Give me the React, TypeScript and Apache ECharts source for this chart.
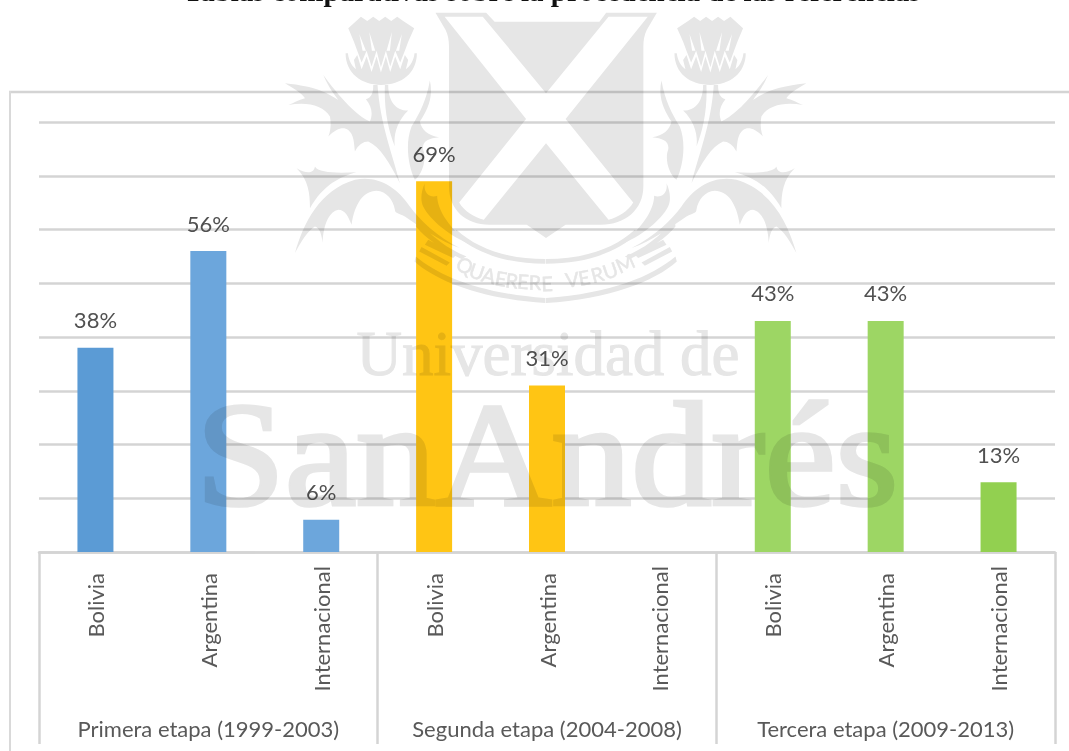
import React, { useEffect, useRef } from "react";
import * as echarts from "echarts";

const categories = ["Bolivia", "Argentina", "Internacional", "Bolivia", "Argentina", "Internacional", "Bolivia", "Argentina", "Internacional"];
const stages = ["Primera etapa (1999-2003)", "Segunda etapa (2004-2008)", "Tercera etapa (2009-2013)"];
const values: (number | null)[] = [38, 56, 6, 69, 31, null, 43, 43, 13];
const barColors = ["#5B9BD5", "#6CA6DC", "#6CA6DC", "#FFC514", "#FFC514", "#FFC514", "#9DD664", "#9DD664", "#92D050"];
const titleText = "Tablas comparativas sobre la procedencia de las referencias";
const motto = "QUAERERE VERUM";

const SHIELD =
  "M460,8 L610,8 L635,35 L945,35 L965,8 L1115,8 L1085,60 C1078,75 1075,90 1075,110 L1075,530 C1075,600 1020,645 950,645 L845,645 L787,685 L730,645 L620,645 C550,645 500,600 500,530 L500,110 C500,90 497,75 490,60 Z " +
  "M487,20 L728,327 L530,578 C545,605 575,622 603,630 L787,400 L972,630 C1000,622 1030,605 1045,578 L845,327 L1088,20 L972,20 L787,250 L600,20 Z";
const THISTLE =
  "M205,55 L243,20 L262,33 L280,20 L298,33 L316,20 L334,33 L352,20 L370,33 L403,55 L385,95 L375,122 L361,158 L346,122 L331,170 L318,122 L303,172 L290,122 L275,170 L260,122 L245,158 L232,122 L222,95 Z " +
  "M238,72 L248,122 L258,122 Z M268,66 L276,122 L286,122 Z M336,66 L320,122 L330,122 Z M366,72 L348,122 L358,122 Z " +
  "M197,130 L204,130 C206,150 215,168 228,178 L222,150 L232,135 L245,178 L260,140 L275,186 L290,140 L303,188 L318,140 L331,186 L346,140 L361,178 L375,135 L385,150 L378,178 C392,168 402,150 404,130 L411,130 C411,190 365,225 303,225 C245,225 197,190 197,130 Z";
const LEAVES =
  "M293,225 L280,225 C280,250 275,262 258,268 C275,290 280,310 270,335 C240,320 200,290 130,195 C150,240 165,255 175,270 C140,248 110,230 15,220 C50,240 70,255 75,265 C55,270 40,280 25,285 C80,275 130,285 150,320 C155,345 150,370 145,380 C170,355 190,350 205,360 C222,375 222,395 225,425 C235,405 250,395 265,395 C300,410 330,460 360,520 C340,440 300,340 293,225 Z " +
  "M50,475 C75,490 100,495 105,470 C115,490 175,490 230,487 C180,500 130,525 90,595 C90,550 85,510 50,475 Z " +
  "M45,730 C70,640 120,540 225,510 C290,495 350,530 390,590 C420,630 470,680 540,715 C480,695 420,650 375,620 C355,610 345,610 345,600 C340,570 320,545 290,543 C250,545 225,580 215,645 C205,620 195,600 175,600 C150,605 130,640 128,700 C125,675 120,655 105,650 C85,660 60,700 45,730 Z " +
  "M315,225 L325,225 C325,270 345,302 385,302 C350,335 340,380 345,410 C325,360 312,300 315,225 Z " +
  "M450,212 C462,265 440,305 420,335 C425,360 445,378 478,382 C445,385 425,395 430,420 C440,445 430,490 405,510 C385,470 375,400 395,350 C420,310 440,270 450,212 Z " +
  "M435,520 C430,550 450,565 472,558 C472,600 510,660 575,705 C510,680 450,630 430,590 C420,570 425,540 435,520 Z " +
  "M410,625 C450,680 510,720 560,740 L545,748 C500,725 440,690 408,650 Z " +
  "M445,690 L530,735 L520,745 L435,705 Z M425,712 L510,758 L500,768 L418,725 Z " +
  "M408,740 C480,800 600,850 797,865 L797,880 C610,868 470,815 404,755 Z";
const RING =
  "M797,748 C680,748 590,715 530,660 L520,670 C585,730 680,762 797,762 Z";

echarts.graphic.registerShape("shieldShape", echarts.graphic.extendPath(SHIELD, {}));
echarts.graphic.registerShape("thistleShape", echarts.graphic.extendPath(THISTLE, {}));
echarts.graphic.registerShape("leavesShape", echarts.graphic.extendPath(LEAVES, {}));
echarts.graphic.registerShape("ringShape", echarts.graphic.extendPath(RING, {}));

const WM = "#E6E6E6";
const mottoX = [465, 477, 489, 501, 512, 523, 535, 547, 572, 584, 597, 610, 625];
const mottoY = [265, 271, 275, 278, 280, 281, 282, 283, 279, 277, 274, 270, 263];
const mottoRot = [-0.42, -0.33, -0.25, -0.17, -0.12, -0.07, -0.02, 0.03, 0.12, 0.18, 0.25, 0.33, 0.42];

const wmPart = (type: string, mirrored: boolean) => ({
  type,
  x: mirrored ? 280 + 797 * 2 / 3 : 280,
  y: 10,
  scaleX: mirrored ? -1 / 3 : 1 / 3,
  scaleY: 1 / 3,
  silent: true,
  style: { fill: WM },
});

export default function App() {
  const ref = useRef<HTMLDivElement>(null);
  const wmRef = useRef<HTMLDivElement>(null);
  useEffect(() => {
    document.body.style.margin = "0";
    const chart = echarts.init(ref.current!, null, { renderer: "svg" });
    const overlay = echarts.init(wmRef.current!, null, { renderer: "svg" });
    const font = "Lato";
    const mottoLetters = motto.replace(" ", "").split("");
    chart.setOption({
      animation: false,
      backgroundColor: "#fff",
      grid: { left: 39, width: 1016, top: 122, height: 430, containLabel: false },
      xAxis: [
        {
          type: "category",
          data: categories,
          position: "bottom",
          axisLine: { show: true, lineStyle: { color: "#D4D4D4", width: 2.5 } },
          axisTick: { show: false },
          axisLabel: {
            interval: 0,
            rotate: 90,
            margin: 14,
            formatter: (v: string) => (v === "Internacional" ? `{i|${v}}` : `{p|${v}}`),
            rich: {
              i: { fontFamily: font, fontSize: 22, color: "#595959" },
              p: { fontFamily: font, fontSize: 22, color: "#595959", padding: [0, 7, 0, 0] },
            },
          },
        },
        {
          type: "category",
          data: stages,
          position: "bottom",
          axisLine: { show: false },
          axisTick: { show: true, length: 192, lineStyle: { color: "#D4D4D4", width: 2.5 } },
          axisLabel: { interval: 0, margin: 165, fontFamily: font, fontSize: 22, color: "#595959" },
        },
      ],
      yAxis: {
        type: "value",
        min: 0,
        max: 80,
        interval: 10,
        axisLabel: { show: false },
        axisLine: { show: false },
        axisTick: { show: false },
        splitLine: { show: true, lineStyle: { color: "#D4D4D4", width: 2.5 } },
      },
      series: [
        {
          type: "bar",
          xAxisIndex: 0,
          barWidth: 36,
          data: values.map((v, i) => ({ value: v, itemStyle: { color: barColors[i] } })),
          label: {
            show: true,
            position: "top",
            distance: 17,
            fontFamily: font,
            fontSize: 22,
            color: "#505050",
            formatter: (p: any) => `${p.value}%`,
          },
        },
      ],
      graphic: [
        {
          type: "text",
          x: 552,
          y: 5.5,
          silent: true,
          style: {
            text: titleText,
            fontFamily: "Liberation Serif",
            fontWeight: "bold",
            fontSize: 29,
            fill: "#111",
            textAlign: "center",
            textVerticalAlign: "bottom",
          },
        },
        { type: "line", silent: true, shape: { x1: 9, y1: 92, x2: 1069, y2: 92 }, style: { stroke: "#D4D4D4", lineWidth: 2.5 } },
        { type: "line", silent: true, shape: { x1: 10, y1: 91, x2: 10, y2: 751 }, style: { stroke: "#D9D9D9", lineWidth: 2 } },
      ],
    });
    overlay.setOption({
      animation: false,
      backgroundColor: "transparent",
      graphic: [
        { type: "shieldShape", x: 280, y: 10, scaleX: 1 / 2.958, scaleY: 1 / 3, silent: true, style: { fill: WM } },
        wmPart("thistleShape", false),
        wmPart("thistleShape", true),
        wmPart("leavesShape", false),
        wmPart("leavesShape", true),
        wmPart("ringShape", false),
        wmPart("ringShape", true),
        ...mottoLetters.map((c, i) => ({
          type: "text",
          x: mottoX[i],
          y: mottoY[i],
          rotation: mottoRot[i],
          silent: true,
          style: { text: c, fontFamily: font, fontSize: 20, fill: WM, stroke: WM, lineWidth: 0.5, textAlign: "center", textVerticalAlign: "middle" },
        })),
        {
          type: "text",
          x: 548,
          y: 385,
          silent: true,
          style: {
            text: "Universidad de",
            fontFamily: "Liberation Serif",
            fontSize: 63,
            fill: WM,
            stroke: WM,
            lineWidth: 1,
            textAlign: "center",
            textVerticalAlign: "bottom",
          },
        },
        {
          type: "text",
          x: 547,
          y: 529,
          scaleY: 0.93,
          silent: true,
          style: {
            text: "SanAndrés",
            fontFamily: "Liberation Serif",
            fontSize: 160,
            fill: WM,
            stroke: WM,
            lineWidth: 4,
            textAlign: "center",
            textVerticalAlign: "bottom",
          },
        },
      ],
    });
    return () => {
      overlay.dispose();
      chart.dispose();
    };
  }, []);
  return (
    <div style={{ position: "relative", width: 1069, height: 751, overflow: "hidden" }}>
      <div ref={ref} style={{ position: "absolute", left: 0, top: 0, width: 1069, height: 751 }} />
      <div
        ref={wmRef}
        style={{ position: "absolute", left: 0, top: 0, width: 1069, height: 751, mixBlendMode: "multiply", pointerEvents: "none" }}
      />
    </div>
  );
}
